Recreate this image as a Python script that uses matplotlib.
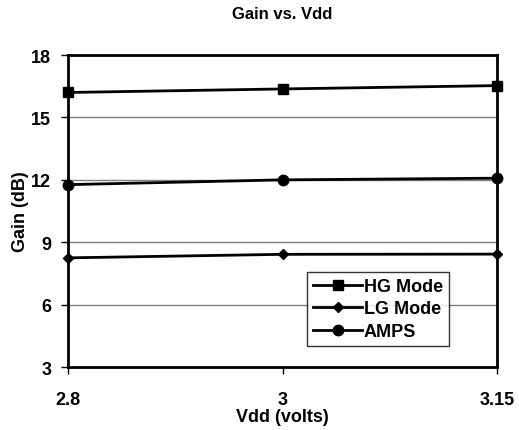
import matplotlib
matplotlib.use("Agg")
import matplotlib.pyplot as plt
from matplotlib import font_manager

# pick a narrow bold font if there is one
names = {f.name for f in font_manager.fontManager.ttflist}
fam = ['Liberation Sans Narrow'] if 'Liberation Sans Narrow' in names else ['Liberation Sans']
plt.rcParams['font.family'] = fam + ['DejaVu Sans']
plt.rcParams['font.weight'] = 'bold'

vdd = ["2.8", "3", "3.15"]
hg_mode = [16.2, 16.37, 16.53]
lg_mode = [8.25, 8.42, 8.43]
amps = [11.77, 12.0, 12.08]

fig = plt.figure(figsize=(5.19, 4.31), dpi=100)
ax = fig.add_axes([0.131, 0.146, 0.827, 0.724])

x = range(len(vdd))
ax.plot(x, hg_mode, color='black', lw=2, marker='s', ms=7, label='HG Mode', clip_on=False, zorder=3)
ax.plot(x, lg_mode, color='black', lw=2, marker='D', ms=5.5, label='LG Mode', clip_on=False, zorder=3)
ax.plot(x, amps, color='black', lw=2, marker='o', ms=7.5, label='AMPS', clip_on=False, zorder=3)

ax.set_xlim(0, 2)
ax.set_ylim(3, 18)
ax.set_yticks([3, 6, 9, 12, 15, 18])
ax.set_xticks(list(x))
ax.set_xticklabels(vdd)
ax.grid(axis='y', color='#808080', lw=1)
ax.set_axisbelow(True)
for s in ax.spines.values():
    s.set_linewidth(2)
ax.tick_params(axis='both', length=5, width=1, labelsize=13)
ax.tick_params(axis='y', pad=7)
ax.tick_params(axis='x', pad=12)

ax.set_title('Gain vs. Vdd', fontsize=12, fontweight='bold', pad=27)
ax.set_xlabel('Vdd (volts)', fontsize=13, fontweight='bold', labelpad=0)
ax.set_ylabel('Gain (dB)', fontsize=13, fontweight='bold', labelpad=2)

leg = ax.legend(loc='lower left', bbox_to_anchor=(0.557, 0.067), fontsize=13, frameon=True,
                fancybox=False, edgecolor='black', handlelength=2.7, borderpad=0.35,
                labelspacing=0.3, handletextpad=0.1, borderaxespad=0)
leg.get_frame().set_linewidth(1)

fig.savefig('out.png', dpi=100)
